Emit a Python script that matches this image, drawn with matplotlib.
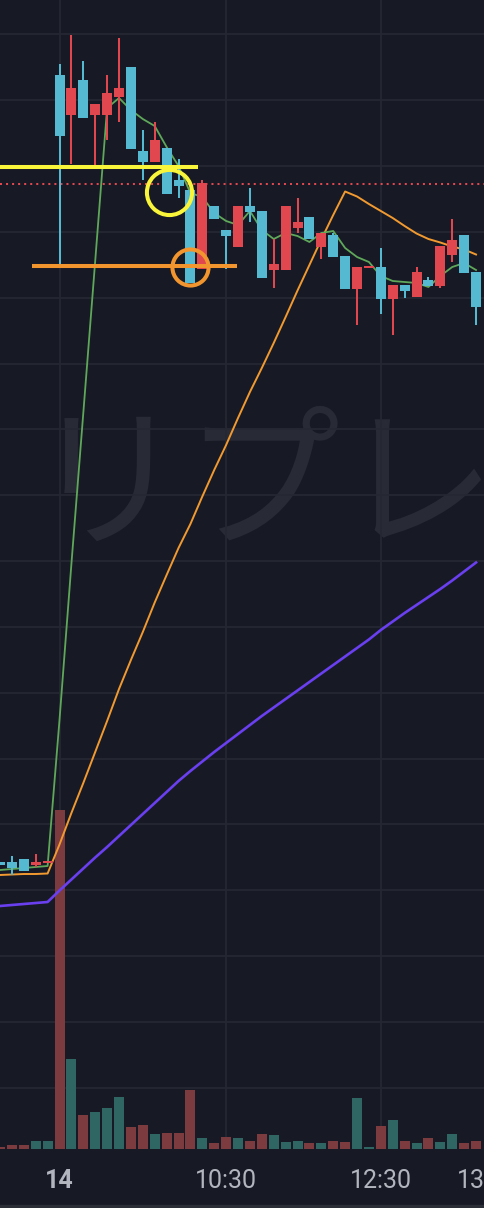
import numpy as np
import matplotlib
matplotlib.use("Agg")
import matplotlib.pyplot as plt
from matplotlib import transforms
from matplotlib.patches import Rectangle

# bar index: 0 = first bar of the 14th, negatives = end of previous session
bars = np.arange(-5, 36)

opens = np.array([338, 338, 341, 335, 337,
                  1125, 1085, 1120, 1085, 1085, 1103, 1133, 1049, 1038, 1052,
                  1020, 1010, 931, 994, 970, 953, 994, 989, 930, 930,
                  972, 983, 953, 965, 944, 911, 932, 933, 901, 915,
                  903, 920, 914, 945, 965, 928])
highs = np.array([338, 344, 341, 346, 339,
                  1136, 1165, 1139, 1096, 1125, 1162, 1133, 1070, 1078, 1052,
                  1041, 1010, 1020, 994, 970, 994, 1012, 989, 961, 994,
                  1002, 983, 967, 967, 944, 933, 934, 952, 915, 915,
                  933, 923, 954, 981, 965, 928])
lows = np.array([335, 325, 329, 333, 337,
                 935, 1036, 1082, 1035, 1060, 1078, 1051, 1020, 1038, 1006,
                 1002, 917, 931, 981, 931, 953, 978, 922, 912, 930,
                 967, 961, 941, 943, 911, 875, 932, 886, 865, 902,
                 903, 914, 912, 938, 927, 875])
closes = np.array([335, 332, 329, 338, 339,
                   1064, 1112, 1082, 1096, 1107, 1112, 1051, 1038, 1060, 1006,
                   1014, 917, 1017, 981, 964, 994, 988, 922, 936, 994,
                   978, 961, 967, 943, 911, 933, 934, 901, 915, 909,
                   928, 914, 954, 960, 927, 893])
volumes = np.array([2, 4, 4, 8, 8,
                    339, 90, 34, 37, 41, 52, 22, 24, 15, 16,
                    16, 59, 11, 6, 12, 11, 8, 15, 14, 7,
                    8, 6, 6, 8, 7, 51, 2, 23, 29, 8,
                    6, 11, 7, 15, 6, 8])

ma_short = np.array([330, 331, 332, 333, 334,
                     480, 636, 787, 939, 1092, 1102, 1090, 1081, 1074, 1053,
                     1034, 1007, 1003, 987, 979, 975, 989, 970, 961, 967,
                     964, 958, 967, 969, 952, 943, 938, 924, 919, 918,
                     917, 913, 924, 933, 937, 930])
ma_mid = np.array([325, 325.5, 326, 326, 326.5,
                   355.5, 387, 417, 448, 479, 511, 540, 568, 597.5, 625,
                   652, 676, 703.5, 730, 755, 782, 808, 832, 857, 883,
                   909.5, 935, 960.5, 985, 1008.5, 1003.5, 996, 989, 982, 974,
                   966.5, 961, 957.5, 953.5, 950.5, 945.5])
ma_long = np.array([294, 295, 296, 297, 298,
                    309.5, 320.5, 331.5, 342.5, 353, 364, 375, 386, 397, 408,
                    419, 429, 438.5, 448, 457, 466, 475, 484, 492.5, 501,
                    509.5, 518, 526.5, 535, 543.5, 552, 560.5, 570, 578.5, 587,
                    595, 603, 611, 619.5, 628.5, 637.5])

tick_pos = [0, 14, 27, 36]
tick_text = ["14", "10:30", "12:30", "13:00"]

prev_close = 1016
yellow_level, yellow_span = 1033.5, (-5.0, 11.64)
orange_level, orange_span = 934.3, (-2.31, 14.92)
yellow_mark = (9.2, 1008)
orange_mark = (10.97, 933.5)

bg = "#171a25"
grid_col = "#252833"
up_col = "#e0474f"
down_col = "#54b9d1"
vol_up = "#2f6563"
vol_down = "#7b3b3f"

W, H = 484, 1208
fig = plt.figure(figsize=(W / 100, H / 100), dpi=100, facecolor=bg)
rect = [0, 59 / H, 1, 1149 / H]
axv = fig.add_axes(rect, facecolor=bg)
ax = fig.add_axes(rect, sharex=axv, facecolor="none")
for a in (axv, ax):
    a.axis("off")

ax.set_xlim(-5.0, 35.67)
ax.set_ylim(51, 1200)
axv.set_ylim(0, 1149)

# grid (drawn in the back axes so volume covers it)
for t in tick_pos[:3]:
    axv.axvline(t, color=grid_col, lw=1.3, zorder=0.5)
grid_prices = np.arange(1165.7, 60, -65.85)
trans = transforms.blended_transform_factory(axv.transAxes, ax.transData)
axv.hlines(grid_prices, 0, 1, transform=trans, color=grid_col, lw=1.3, zorder=0.5)

# watermark
axv.text(0.062, 0.573, "リプレイ", transform=axv.transAxes, fontsize=112,
         family="Noto Sans CJK JP", color="#282b36", va="center", ha="left", zorder=0.3)

up = closes >= opens
axv.bar(bars, volumes, width=0.84, color=np.where(up, vol_up, vol_down), linewidth=0, zorder=1)

ax.axhline(prev_close, color=up_col, lw=1.45, ls=(0, (1, 2)), zorder=1.5)

ax.plot(bars, ma_long, color="#6a3ff0", lw=1.9, zorder=2)
ax.plot(bars, ma_mid, color="#f29a30", lw=1.4, zorder=2)
ax.plot(bars, ma_short, color="#5fa85a", lw=1.3, zorder=2)

cols = np.where(up, up_col, down_col)
ax.vlines(bars, lows, highs, colors=cols, lw=1.45, zorder=3)
body = np.maximum(np.abs(closes - opens), 1.6)
ax.bar(bars, body, bottom=np.minimum(opens, closes), width=0.84, color=cols, linewidth=0, zorder=4)

# hand drawings
ax.hlines(yellow_level, *yellow_span, color="#f8f53b", lw=2.9, zorder=5)
ax.hlines(orange_level, *orange_span, color="#f2952e", lw=2.9, zorder=5)
ax.plot(*yellow_mark, marker="o", ms=32.5, mfc="none", mec="#f8f53b", mew=2.9, zorder=6)
ax.plot(*orange_mark, marker="o", ms=26, mfc="none", mec="#f2952e", mew=2.9, zorder=6)

lab_trans = transforms.blended_transform_factory(ax.transData, fig.transFigure)
for p, s in zip(tick_pos, tick_text):
    ax.text(p, (H - 1181) / H, s, transform=lab_trans, ha="center", va="center",
            fontsize=18, family="Roboto", color="#b2b5be",
            fontweight="bold" if s == "14" else "normal", clip_on=False)

fig.add_artist(Rectangle((0, 0), 1, 3 / H, transform=fig.transFigure, color="#2b2e36"))

fig.savefig("out.png", dpi=100, facecolor=bg)
